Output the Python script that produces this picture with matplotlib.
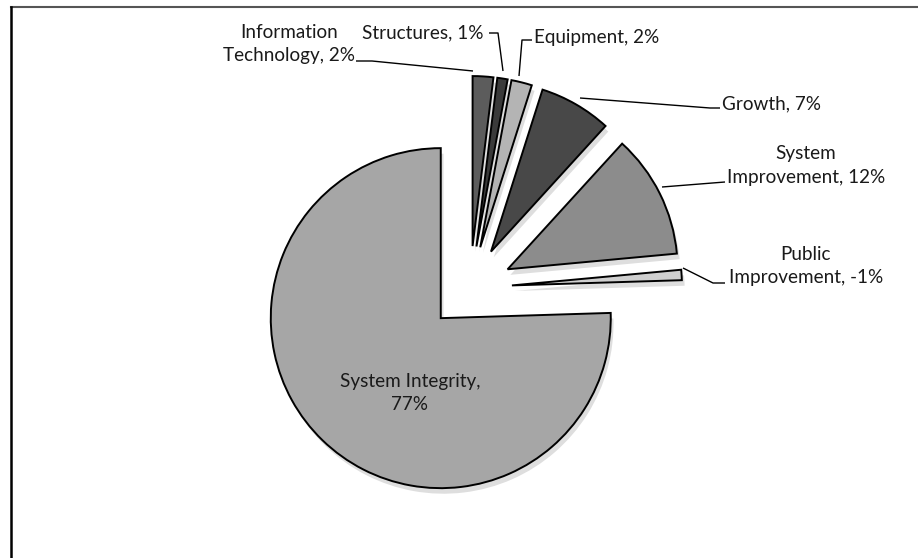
import matplotlib.pyplot as plt
import matplotlib.patheffects as pe

# capital budget shares by category (labels show value / net total)
categories = ['Information\nTechnology', 'Structures', 'Equipment', 'Growth',
              'System\nImprovement', 'Public\nImprovement', 'System Integrity']
shares = [2, 1, 2, 7, 12, -1, 77]
colors = ['#5c5c5c', '#3a3a3a', '#b4b4b4', '#484848', '#8c8c8c', '#cfcfcf', '#a6a6a6']

W, H = 918, 558
fig = plt.figure(figsize=(W / 100, H / 100), dpi=100)
ax = fig.add_axes([0, 0, 1, 1])

font = dict(family='Lato', fontsize=13.6, color='#1a1a1a')

# pie draws absolute sizes, negative entries still get a wedge
sizes = [abs(v) for v in shares]
cx, cy, r = 470, H - 288, 170
# explode is an absolute offset in data units (pixels here)
wedges, _ = ax.pie(sizes, colors=colors, startangle=90, counterclock=False,
                   center=(cx, cy), radius=r, explode=[42] * len(sizes),
                   wedgeprops=dict(edgecolor='black', linewidth=1.4))
for w in wedges:
    w.set_path_effects([pe.SimplePatchShadow(offset=(2, -4), shadow_rgbFace='#c8c8c8', alpha=0.6),
                        pe.Normal()])

# pie() resets the limits, so pin them to pixel units afterwards
ax.set_xlim(0, W)
ax.set_ylim(0, H)
ax.set_aspect('equal')
ax.axis('off')

def lbl(i):
    return f'{categories[i]}, {shares[i]}%'

def leader(pts):
    xs = [p[0] for p in pts]
    ys = [H - p[1] for p in pts]
    ax.plot(xs, ys, color='black', lw=1.0, solid_capstyle='butt')

# outside labels (pixel positions, y measured from top)
ax.text(289, H - 44, lbl(0), ha='center', va='center', linespacing=1.5, **font)
leader([(356, 61), (372, 61), (473, 71)])

ax.text(484, H - 33, lbl(1), ha='right', va='center', **font)
leader([(489, 33), (498, 33), (503, 71)])

ax.text(534, H - 38, lbl(2), ha='left', va='center', **font)
leader([(532, 40), (522, 40), (519, 76)])

ax.text(722, H - 104, lbl(3), ha='left', va='center', **font)
leader([(580, 98), (710, 108), (720, 108)])

ax.text(806, H - 165, lbl(4), ha='center', va='center', linespacing=1.5, **font)
leader([(662, 187), (725, 182)])

ax.text(806, H - 266, lbl(5), ha='center', va='center', linespacing=1.5, **font)
leader([(683, 268), (713, 283), (725, 283)])

ax.text(410, H - 393, lbl(6).replace(', ', ',\n'), ha='center', va='center',
        linespacing=1.4, **font)

# chart frame: top and left edges
ax.plot([11, W], [H - 7, H - 7], color='#555555', lw=1.5)
ax.plot([11, 11], [H - 7, 0], color='black', lw=1.8)

fig.savefig('out.png', dpi=100)
